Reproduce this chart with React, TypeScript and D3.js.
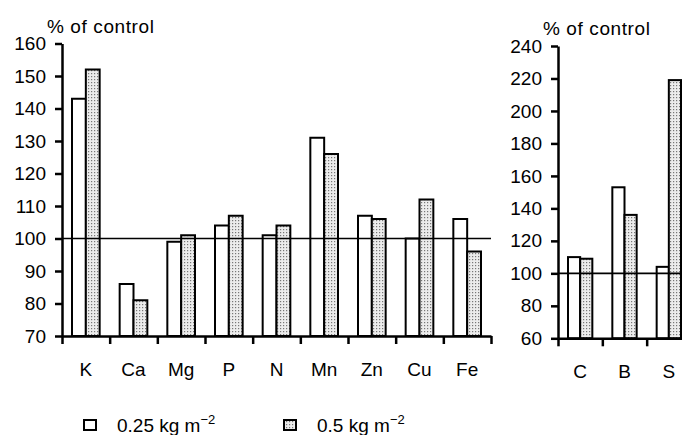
import * as d3 from 'd3'
import { useEffect, useRef } from 'react'

const leftCategories = ['K', 'Ca', 'Mg', 'P', 'N', 'Mn', 'Zn', 'Cu', 'Fe']
const left025 = [143, 86, 99, 104, 101, 131, 107, 100, 106]
const left05 = [152, 81, 101, 107, 104, 126, 106, 112, 96]

const rightCategories = ['C', 'B', 'S']
const right025 = [110, 153, 104]
const right05 = [109, 136, 219]

const leftTicks = [70, 80, 90, 100, 110, 120, 130, 140, 150, 160]
const rightTicks = [60, 80, 100, 120, 140, 160, 180, 200, 220, 240]

const FONT = '"Liberation Sans", Arial, Helvetica, sans-serif'

export default function App() {
    const ref = useRef<SVGSVGElement>(null)

    useEffect(() => {
        const svg = d3.select(ref.current)
        svg.selectAll('*').remove()

        const defs = svg.append('defs')
        const pat = defs.append('pattern')
            .attr('id', 'dots')
            .attr('width', 3)
            .attr('height', 3)
            .attr('patternUnits', 'userSpaceOnUse')
        pat.append('rect').attr('width', 3).attr('height', 3).attr('fill', '#ececec')
        pat.append('rect').attr('x', 1).attr('y', 1).attr('width', 1.2).attr('height', 1.2).attr('fill', '#777')

        const panel = (opts: {
            cats: string[], a: number[], b: number[], ticks: number[],
            x0: number, x1: number, yTop: number, yBot: number, pad: number
        }) => {
            const { cats, a, b, ticks, x0, x1, yTop, yBot, pad } = opts
            const y = d3.scaleLinear()
                .domain([ticks[0], ticks[ticks.length - 1]])
                .range([yBot, yTop])
            const x = d3.scaleBand<string>()
                .domain(cats)
                .range([x0, x1])
            const step = x.bandwidth()
            const barW = (step - 2 * pad) / 2

            const g = svg.append('g')

            // bars
            cats.forEach((c, i) => {
                const bx = x(c)! + pad
                g.append('rect')
                    .attr('x', bx)
                    .attr('y', y(a[i]))
                    .attr('width', barW)
                    .attr('height', y(ticks[0]) - y(a[i]))
                    .attr('fill', 'white')
                    .attr('stroke', 'black')
                    .attr('stroke-width', 2)
                g.append('rect')
                    .attr('x', bx + barW)
                    .attr('y', y(b[i]))
                    .attr('width', barW)
                    .attr('height', y(ticks[0]) - y(b[i]))
                    .attr('fill', 'url(#dots)')
                    .attr('stroke', 'black')
                    .attr('stroke-width', 2)
            })

            // reference line at 100
            g.append('line')
                .attr('x1', x0).attr('x2', x1)
                .attr('y1', y(100)).attr('y2', y(100))
                .attr('stroke', 'black')
                .attr('stroke-width', 1.6)

            // y axis
            const ya = g.append('g')
                .attr('transform', `translate(${x0},0)`)
                .call(d3.axisLeft(y).tickValues(ticks).tickSize(7).tickPadding(9).tickSizeOuter(0))
            ya.select('.domain').attr('stroke-width', 2.5)
            ya.selectAll('.tick line').attr('stroke-width', 2.5)
            ya.selectAll('.tick text')
                .attr('font-family', FONT)
                .attr('font-size', 19)
                .attr('fill', 'black')

            // x axis with ticks at band boundaries
            const idx = d3.scaleLinear().domain([0, cats.length]).range([x0, x1])
            const xa = g.append('g')
                .attr('transform', `translate(0,${yBot})`)
                .call(d3.axisBottom(idx).tickValues(d3.range(cats.length + 1)).tickFormat(() => '').tickSize(8).tickSizeOuter(0))
            xa.select('.domain').attr('stroke-width', 2.5)
            xa.selectAll('.tick line').attr('stroke-width', 2.5)

            g.selectAll('text.cat')
                .data(cats)
                .join('text')
                .attr('class', 'cat')
                .attr('x', d => x(d)! + step / 2)
                .attr('y', yBot + 40)
                .attr('text-anchor', 'middle')
                .attr('font-family', FONT)
                .attr('font-size', 19)
                .text(d => d)

            g.append('text')
                .attr('x', x0 - 15)
                .attr('y', yTop - 11)
                .attr('font-family', FONT)
                .attr('font-size', 19)
                .attr('letter-spacing', 0.6)
                .text('% of control')
        }

        panel({ cats: leftCategories, a: left025, b: left05, ticks: leftTicks, x0: 62, x1: 491, yTop: 43.5, yBot: 336, pad: 10 })
        panel({ cats: rightCategories, a: right025, b: right05, ticks: rightTicks, x0: 558, x1: 691, yTop: 46, yBot: 338.3, pad: 10 })

        // legend
        const legend = [
            { label: '0.25 kg m', fill: 'white', x: 84 },
            { label: '0.5 kg m', fill: 'url(#dots)', x: 284 },
        ]
        const lg = svg.append('g')
        legend.forEach(l => {
            lg.append('rect')
                .attr('x', l.x).attr('y', 420)
                .attr('width', 12).attr('height', 10)
                .attr('fill', l.fill)
                .attr('stroke', 'black')
                .attr('stroke-width', 2)
            const t = lg.append('text')
                .attr('x', l.x + 33)
                .attr('y', 432)
                .attr('font-family', FONT)
                .attr('font-size', 19)
            t.append('tspan').text(l.label)
            t.append('tspan').attr('dy', -8).attr('font-size', 13).text('\u22122')
        })
    }, [])

    return (
        <svg ref={ref} width={682} height={435}
            style={{ position: 'absolute', left: 0, top: 0, background: 'white' }} />
    )
}
